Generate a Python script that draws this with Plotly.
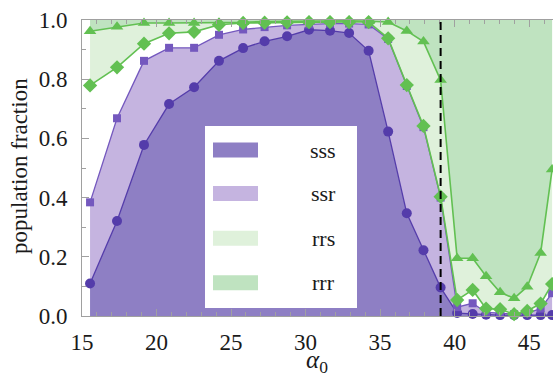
import plotly.graph_objects as go

# ---------------- data ----------------
alpha = [15.54, 17.35, 19.16, 20.84, 22.52, 24.19, 25.81, 27.25, 28.76, 30.23,
         31.64, 32.92, 34.23, 35.54, 36.79, 37.91, 39.06, 40.17, 41.21, 42.11,
         43.05, 43.99, 44.87, 45.77, 46.54]

# upper edge of the sss band (circles)
sss_edge = [0.110, 0.321, 0.578, 0.716, 0.773, 0.862, 0.905, 0.928, 0.945, 0.967,
            0.964, 0.956, 0.896, 0.623, 0.347, 0.222, 0.096, 0.010, 0.007, 0.004,
            0.003, 0.003, 0.003, 0.003, 0.003]
# upper edge of the ssr band (squares)
ssr_edge = [0.384, 0.668, 0.862, 0.906, 0.906, 0.950, 0.968, 0.976, 0.982, 0.985,
            0.988, 0.988, 0.985, 0.936, 0.777, 0.638, 0.400, 0.030, 0.043, 0.012,
            0.010, 0.006, 0.010, 0.025, 0.077]
# lower edge of the rrs band (diamonds)
rrs_edge = [0.779, 0.840, 0.920, 0.955, 0.960, 0.984, 0.990, 0.991, 0.992, 0.993,
            0.993, 0.993, 0.993, 0.938, 0.780, 0.642, 0.403, 0.054, 0.088, 0.025,
            0.023, 0.006, 0.017, 0.042, 0.108]
# lower edge of the rrr band (triangles)
rrr_edge = [0.962, 0.977, 0.990, 0.990, 0.990, 0.990, 0.992, 0.995, 0.996, 0.997,
            0.997, 0.997, 0.996, 0.993, 0.963, 0.927, 0.797, 0.195, 0.195, 0.134,
            0.080, 0.060, 0.099, 0.213, 0.495]
top_edge = [1.0] * len(alpha)

alpha_c = 39.06   # dashed vertical line

series_names = ["sss", "ssr", "rrs", "rrr"]
x_ticks = [15, 20, 25, 30, 35, 40, 45]
y_ticks = [0.0, 0.2, 0.4, 0.6, 0.8, 1.0]
y_ticktext = ["0.0", "0.2", "0.4", "0.6", "0.8", "1.0"]

# ---------------- style ----------------
C_SSS = "rgb(142,127,196)"
C_SSR = "rgb(197,180,224)"
C_RRS = "rgb(223,241,219)"
C_RRR = "rgb(191,227,192)"
C_CIRC = "rgb(84,60,170)"
C_SQ = "rgb(116,88,190)"
C_GR = "rgb(98,192,82)"
C_AX = "rgb(160,160,160)"
FONT = "Liberation Serif"

W, H = 553, 379
L, T, R, B = 82, 20, 0, 63
PW, PH = W - L - R, H - T - B


def px(p):
    return (p - L) / PW


def py(p):
    return (H - B - p) / PH


fig = go.Figure()

# fills
fill_kw = dict(mode="lines", line=dict(width=0), hoverinfo="skip", showlegend=False)
fig.add_trace(go.Scatter(x=alpha, y=sss_edge, fill="tozeroy", fillcolor=C_SSS, **fill_kw))
fig.add_trace(go.Scatter(x=alpha, y=ssr_edge, fill="tonexty", fillcolor=C_SSR, **fill_kw))
fig.add_trace(go.Scatter(x=alpha, y=rrs_edge, **fill_kw))
fig.add_trace(go.Scatter(x=alpha, y=rrr_edge, fill="tonexty", fillcolor=C_RRS, **fill_kw))
fig.add_trace(go.Scatter(x=alpha, y=top_edge, fill="tonexty", fillcolor=C_RRR, **fill_kw))

# lines + markers
fig.add_trace(go.Scatter(x=alpha, y=sss_edge, mode="lines+markers", cliponaxis=False,
                         line=dict(color=C_CIRC, width=1.3),
                         marker=dict(symbol="circle", size=10, color=C_CIRC),
                         showlegend=False))
fig.add_trace(go.Scatter(x=alpha, y=ssr_edge, mode="lines+markers", cliponaxis=False,
                         line=dict(color=C_SQ, width=1.3),
                         marker=dict(symbol="square", size=8, color=C_SQ),
                         showlegend=False))
fig.add_trace(go.Scatter(x=alpha, y=rrs_edge, mode="lines+markers", cliponaxis=False,
                         line=dict(color=C_GR, width=1.6),
                         marker=dict(symbol="diamond", size=11, color=C_GR),
                         showlegend=False))
fig.add_trace(go.Scatter(x=alpha, y=rrr_edge, mode="lines+markers", cliponaxis=False,
                         line=dict(color=C_GR, width=1.6),
                         marker=dict(symbol="triangle-up", size=11, color=C_GR),
                         showlegend=False))

shapes = []
# dashed line
shapes.append(dict(type="line", xref="x", yref="y", x0=alpha_c, x1=alpha_c, y0=0, y1=1,
                   line=dict(color="black", width=2, dash="8px,5px"), layer="above"))
# legend box
shapes.append(dict(type="rect", xref="paper", yref="paper",
                   x0=px(205), x1=px(357), y0=py(308), y1=py(126),
                   fillcolor="white", line=dict(width=0), layer="above"))
sw_colors = [C_SSS, C_SSR, C_RRS, C_RRR]
sw_centers = [150, 193.5, 238.3, 282.8]
annotations = []
for name, col, cy in zip(series_names, sw_colors, sw_centers):
    shapes.append(dict(type="rect", xref="paper", yref="paper",
                       x0=px(213), x1=px(258), y0=py(cy + 7.5), y1=py(cy - 7.5),
                       fillcolor=col, line=dict(width=0), layer="above"))
    annotations.append(dict(text=name, xref="paper", yref="paper", x=px(323), y=py(cy),
                            xanchor="center", yanchor="middle", showarrow=False,
                            font=dict(family=FONT, size=22, color="#1a1a1a")))

annotations.append(dict(text="population fraction", xref="paper", yref="paper",
                        x=px(19), y=py(166), textangle=-90, xanchor="center",
                        yanchor="middle", showarrow=False,
                        font=dict(family=FONT, size=23, color="#1a1a1a")))
annotations.append(dict(text="<i>α</i><sub>0</sub>", xref="paper", yref="paper",
                        x=px(317), y=py(379), xanchor="center", yanchor="bottom",
                        showarrow=False, font=dict(family=FONT, size=25, color="#1a1a1a")))

axis_common = dict(showgrid=False, zeroline=False, showline=True, linecolor=C_AX,
                   linewidth=1, ticks="inside", tickcolor=C_AX, ticklen=7,
                   tickfont=dict(family=FONT, size=23, color="#1a1a1a"))

fig.update_layout(
    width=W, height=H,
    margin=dict(l=L, r=R, t=T, b=B),
    paper_bgcolor="white", plot_bgcolor="white",
    shapes=shapes, annotations=annotations,
    xaxis=dict(range=[15, 46.6], tickmode="array", tickvals=x_ticks, mirror="ticks",
               minor=dict(dtick=1, tick0=15, ticks="inside", ticklen=4, tickcolor=C_AX),
               ticklabelstandoff=5, **axis_common),
    yaxis=dict(range=[0, 1], tickmode="array", tickvals=y_ticks, ticktext=y_ticktext,
               minor=dict(dtick=0.1, tick0=0, ticks="inside", ticklen=4, tickcolor=C_AX),
               ticklabelstandoff=9, **axis_common),
)

fig.write_html("out.html")
